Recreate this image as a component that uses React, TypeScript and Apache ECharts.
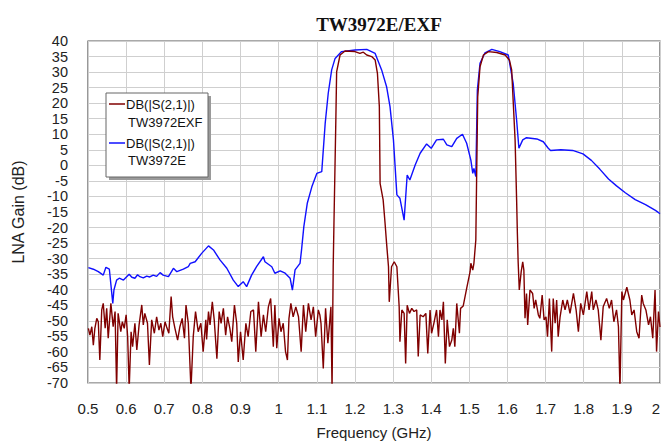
import React, { useEffect, useRef } from "react";
import * as echarts from "echarts";

// ---- Chart data (frequency GHz, gain dB) ----
const TITLE = "TW3972E/EXF";
const X_NAME = "Frequency (GHz)";
const Y_NAME = "LNA Gain (dB)";
const X_MIN = 0.5, X_MAX = 2, X_STEP = 0.1;
const Y_MIN = -70, Y_MAX = 40, Y_STEP = 5;
const LEGEND_RED = ["DB(|S(2,1)|)", "TW3972EXF"];
const LEGEND_BLUE = ["DB(|S(2,1)|)", "TW3972E"];

// TW3972E (blue)
const eLowBand: [number, number][] = [
  [0.501, -32.9], [0.514, -33.4], [0.527, -34.2], [0.54, -35.3], [0.547, -32.8], [0.556, -33.4],
  [0.565, -44.4], [0.568, -40.1], [0.575, -36.9], [0.582, -36.3], [0.593, -36.9], [0.608, -35.0],
  [0.615, -36.0], [0.623, -36.3], [0.63, -35.2], [0.636, -35.8], [0.645, -36.2], [0.654, -35.6],
  [0.662, -35.9], [0.671, -35.3], [0.68, -35.7], [0.689, -34.5], [0.697, -35.3], [0.711, -35.8],
  [0.724, -33.1], [0.733, -34.2], [0.75, -33.4], [0.763, -32.6], [0.768, -31.5], [0.781, -31.0],
  [0.798, -28.3], [0.816, -25.9], [0.829, -27.2], [0.846, -30.4], [0.864, -33.1], [0.881, -36.9],
  [0.894, -39.0], [0.907, -37.4], [0.916, -39.0], [0.929, -35.3], [0.942, -32.6], [0.96, -29.4],
  [0.964, -31.0], [0.982, -32.6], [0.99, -34.7], [1.004, -33.9], [1.017, -34.7], [1.03, -36.3],
  [1.036, -40.1], [1.043, -33.6], [1.056, -31.5], [1.06, -27.2], [1.066, -19.7], [1.075, -12.2],
  [1.087, -6.9], [1.1, -2.6], [1.113, -2.0],
];
const ePassbands: [number, number][] = [
  [1.122, 13.5], [1.13, 23.2], [1.139, 30.7], [1.148, 34.4], [1.165, 36.6], [1.2, 37.1],
  [1.231, 37.3], [1.253, 36.0], [1.27, 30.7], [1.283, 25.3], [1.292, 18.9], [1.301, 8.2],
  [1.31, -9.5], [1.318, -10.6], [1.329, -17.6], [1.337, -3.1], [1.344, -4.7], [1.358, 0.1],
  [1.371, 3.9], [1.388, 6.9], [1.4, 5.5], [1.414, 8.2], [1.432, 8.4], [1.441, 6.6],
  [1.454, 6.0], [1.467, 8.7], [1.482, 10.0], [1.493, 7.1], [1.504, 1.7], [1.509, -2.6],
  [1.512, -1.0], [1.517, -3.6], [1.521, 24.2], [1.528, 32.8], [1.541, 36.2], [1.559, 37.3],
  [1.58, 36.6], [1.602, 35.5], [1.615, 26.4], [1.624, 14.6], [1.63, 5.5],
];
const eHighBand: [number, number][] = [
  [1.64, 8.2], [1.65, 8.9], [1.677, 8.5], [1.694, 7.6], [1.707, 5.5], [1.713, 4.8],
  [1.74, 5.0], [1.771, 4.8], [1.798, 3.7], [1.82, 1.6], [1.842, -1.2], [1.865, -4.4],
  [1.886, -6.6], [1.909, -8.8], [1.935, -11.0], [1.962, -12.6], [1.988, -14.5], [2.0, -15.5],
];

// TW3972EXF (dark red)
const exfLowBand: [number, number][] = [
  [0.501, -52.4], [0.505, -54.6], [0.51, -51.9], [0.514, -57.8], [0.518, -52.4], [0.523, -49.2],
  [0.527, -50.3], [0.531, -62.6], [0.536, -46.5], [0.54, -44.4], [0.545, -52.4], [0.549, -46.0],
  [0.553, -55.6], [0.56, -44.4], [0.566, -51.9], [0.571, -47.0], [0.575, -72], [0.579, -47.6],
  [0.586, -53.5], [0.59, -50.3], [0.595, -52.4], [0.6, -48.1], [0.604, -55.1], [0.608, -72],
  [0.613, -53.5], [0.617, -58.3], [0.623, -50.8], [0.628, -59.4], [0.634, -51.3], [0.641, -44.9],
  [0.645, -51.3], [0.649, -47.6], [0.656, -50.8], [0.661, -64.2], [0.667, -49.7], [0.674, -54.0],
  [0.68, -48.7], [0.686, -53.0], [0.691, -50.8], [0.696, -55.1], [0.702, -50.3], [0.706, -51.9],
  [0.712, -54.0], [0.718, -42.2], [0.722, -48.7], [0.728, -52.4], [0.735, -56.2], [0.741, -51.9],
  [0.747, -49.2], [0.753, -55.6], [0.757, -44.9], [0.763, -50.8], [0.77, -72], [0.776, -55.1],
  [0.782, -47.0], [0.789, -53.5], [0.796, -50.8], [0.802, -59.9], [0.809, -49.7], [0.811, -56.0],
  [0.816, -47.0], [0.82, -51.3], [0.826, -43.9], [0.831, -49.7], [0.838, -62.2], [0.844, -47.0],
  [0.849, -50.8], [0.855, -46.0], [0.861, -54.6], [0.866, -48.7], [0.872, -52.4], [0.877, -56.7],
  [0.884, -44.9], [0.89, -50.8], [0.894, -63.2], [0.9, -53.5], [0.907, -62.6], [0.914, -50.8],
  [0.92, -55.1], [0.927, -47.0], [0.934, -46.5], [0.94, -59.9], [0.947, -43.9], [0.954, -55.1],
  [0.96, -48.1], [0.966, -53.5], [0.973, -45.5], [0.979, -42.8], [0.986, -58.3], [0.99, -44.9],
  [0.995, -58.8], [1.001, -49.2], [1.006, -53.5], [1.012, -50.8], [1.018, -59.9], [1.023, -62.6],
  [1.027, -49.2], [1.032, -44.4], [1.038, -48.7], [1.045, -45.5], [1.052, -48.7], [1.059, -59.9],
  [1.065, -44.9], [1.071, -53.5], [1.078, -44.4], [1.085, -49.7], [1.091, -45.5], [1.097, -55.1],
  [1.104, -46.5], [1.108, -48.1], [1.111, -50.8], [1.117, -65.3], [1.123, -46.0], [1.129, -57.2],
  [1.132, -53.0], [1.137, -45.5], [1.14, -72], [1.142, -45.5],
];
const exfPassband1: [number, number][] = [
  [1.143, -32.6], [1.145, -18.6], [1.15, 15.0], [1.152, 30.1], [1.161, 35.5], [1.174, 36.8],
  [1.2, 36.6], [1.213, 36.0], [1.222, 36.4], [1.231, 35.5], [1.244, 35.0], [1.253, 33.9],
  [1.259, 29.6], [1.264, 18.9], [1.266, -5.8], [1.274, -11.1], [1.279, -18.6], [1.283, -25.1],
  [1.288, -32.6], [1.29, -43.9], [1.296, -32.6], [1.303, -31.0], [1.31, -32.6], [1.316, -45.5],
];
const exfMidBand: [number, number][] = [
  [1.318, -56.7], [1.323, -46.5], [1.329, -47.6], [1.333, -63.7], [1.337, -45.0], [1.343, -47.6],
  [1.349, -46.0], [1.355, -47.0], [1.362, -46.5], [1.366, -61.5], [1.371, -48.1], [1.379, -48.7],
  [1.386, -47.6], [1.391, -60.5], [1.397, -46.5], [1.401, -54.0], [1.407, -50.8], [1.414, -46.5],
  [1.419, -55.1], [1.423, -46.5], [1.428, -49.7], [1.432, -43.9], [1.437, -63.7], [1.442, -49.7],
  [1.448, -58.3], [1.454, -56.2], [1.458, -52.4], [1.462, -58.3], [1.467, -44.4], [1.474, -54.0],
  [1.477, -46.0], [1.484, -45.2], [1.493, -39.6], [1.502, -34.2], [1.504, -31.5], [1.509, -33.7],
  [1.512, -31.5],
];
const exfPassband2: [number, number][] = [
  [1.517, -24.0], [1.519, -5.0], [1.522, 22.0], [1.528, 31.7], [1.537, 35.5], [1.55, 36.6],
  [1.572, 36.3], [1.594, 35.5], [1.605, 33.9], [1.611, 30.7], [1.62, 8.2], [1.624, -11.1],
  [1.626, -21.9], [1.628, -31.0], [1.631, -40.1], [1.636, -34.2], [1.64, -31.0], [1.643, -33.7],
];
const exfHighBand: [number, number][] = [
  [1.646, -49.2], [1.65, -41.2], [1.653, -51.3], [1.659, -40.1], [1.666, -41.2], [1.67, -46.0],
  [1.674, -43.3], [1.681, -48.1], [1.685, -49.2], [1.691, -41.7], [1.696, -49.7], [1.701, -48.7],
  [1.705, -55.1], [1.71, -42.8], [1.716, -59.9], [1.72, -42.8], [1.725, -50.8], [1.729, -43.3],
  [1.733, -55.1], [1.738, -48.7], [1.745, -43.3], [1.751, -46.5], [1.757, -43.3], [1.764, -47.6],
  [1.773, -41.2], [1.78, -46.5], [1.786, -53.5], [1.792, -44.4], [1.799, -48.1], [1.808, -40.6],
  [1.814, -46.5], [1.821, -40.6], [1.825, -46.5], [1.832, -43.3], [1.838, -46.5], [1.845, -56.2],
  [1.851, -45.5], [1.86, -42.8], [1.867, -46.0], [1.873, -43.3], [1.879, -50.3], [1.886, -46.5],
  [1.891, -51.9], [1.895, -72], [1.9, -40.6], [1.904, -43.3], [1.913, -39.2], [1.921, -43.3],
  [1.926, -48.1], [1.932, -46.5], [1.939, -53.5], [1.945, -55.6], [1.952, -41.7], [1.956, -44.4],
  [1.963, -46.5], [1.97, -51.3], [1.975, -48.7], [1.981, -55.6], [1.987, -40.1], [1.991, -59.9],
  [1.996, -47.0], [2.0, -52.0],
];

const blueData = [...eLowBand, ...ePassbands, ...eHighBand];
const redData = [...exfLowBand, ...exfPassband1, ...exfMidBand, ...exfPassband2, ...exfHighBand];

const RED = "#800000";
const BLUE = "#1010ff";
const SANS = '"Liberation Sans", Arial, sans-serif';

export default function App() {
  const ref = useRef<HTMLDivElement>(null);
  useEffect(() => {
    if (!ref.current) return;
    const chart = echarts.init(ref.current, undefined, { renderer: "svg" });
    const lx = 106, ly = 93, lw = 102, lh = 84;
    chart.setOption({
      animation: false,
      backgroundColor: "#ffffff",
      title: {
        text: TITLE,
        left: 374,
        top: 10,
        textAlign: "center",
        textStyle: { fontFamily: '"Liberation Serif", "Times New Roman", serif', fontWeight: "bold", fontSize: 19, color: "#111" },
      },
      grid: {
        left: 88, right: 2, top: 41, bottom: 58,
        outerBoundsMode: "none",
        containLabel: false,
        show: true, borderColor: "#555", borderWidth: 1.2, backgroundColor: "#fff",
      },
      xAxis: {
        type: "value",
        min: X_MIN,
        max: X_MAX,
        interval: X_STEP,
        name: X_NAME,
        nameLocation: "middle",
        nameGap: 42,
        nameTextStyle: { fontFamily: SANS, fontSize: 15, color: "#222" },
        axisLine: { show: false },
        axisTick: { show: false },
        axisLabel: {
          margin: 18,
          fontFamily: SANS,
          fontSize: 15,
          color: "#222",
          hideOverlap: false,
          alignMaxLabel: "right",
          formatter: (v: number) => String(Math.round(v * 10) / 10),
        },
        splitLine: { show: true, lineStyle: { color: "#cfcfcf", width: 1 } },
      },
      yAxis: {
        type: "value",
        min: Y_MIN,
        max: Y_MAX,
        interval: Y_STEP,
        name: Y_NAME,
        nameLocation: "middle",
        nameGap: 62,
        nameTextStyle: { fontFamily: SANS, fontSize: 16, color: "#222" },
        axisLine: { show: false },
        axisTick: { show: false },
        axisLabel: { margin: 20, fontFamily: SANS, fontSize: 14.5, lineHeight: 14, color: "#222", hideOverlap: false },
        splitLine: { show: true, lineStyle: { color: "#cfcfcf", width: 1 } },
      },
      series: [
        {
          name: "TW3972E",
          type: "line",
          data: blueData,
          showSymbol: false,
          clip: true,
          lineStyle: { color: BLUE, width: 1.4 },
          z: 3,
        },
        {
          name: "TW3972EXF",
          type: "line",
          data: redData,
          showSymbol: false,
          clip: true,
          lineStyle: { color: RED, width: 1.4 },
          z: 4,
        },
      ],
      graphic: [
        { type: "rect", z: 100, shape: { x: lx + 3, y: ly + 3, width: lw, height: lh }, style: { fill: "#9a9a9a" } },
        { type: "rect", z: 101, shape: { x: lx, y: ly, width: lw, height: lh }, style: { fill: "#fff", stroke: "#666", lineWidth: 1 } },
        { type: "line", z: 102, shape: { x1: lx + 3, y1: 104, x2: lx + 19, y2: 104 }, style: { stroke: RED, lineWidth: 1.5 } },
        { type: "text", z: 102, x: lx + 20, y: 104, style: { text: LEGEND_RED[0], font: `13px ${SANS}`, fill: "#111", verticalAlign: "middle" } },
        { type: "text", z: 102, x: lx + 22, y: 122, style: { text: LEGEND_RED[1], font: `13px ${SANS}`, fill: "#111", verticalAlign: "middle" } },
        { type: "line", z: 102, shape: { x1: lx + 3, y1: 143, x2: lx + 19, y2: 143 }, style: { stroke: BLUE, lineWidth: 1.5 } },
        { type: "text", z: 102, x: lx + 20, y: 143, style: { text: LEGEND_BLUE[0], font: `13px ${SANS}`, fill: "#111", verticalAlign: "middle" } },
        { type: "text", z: 102, x: lx + 22, y: 160, style: { text: LEGEND_BLUE[1], font: `13px ${SANS}`, fill: "#111", verticalAlign: "middle" } },
      ],
    });
    return () => chart.dispose();
  }, []);
  return (
    <div
      ref={ref}
      style={{ position: "absolute", left: 0, top: 0, width: 662, height: 441, background: "#fff" }}
    />
  );
}
